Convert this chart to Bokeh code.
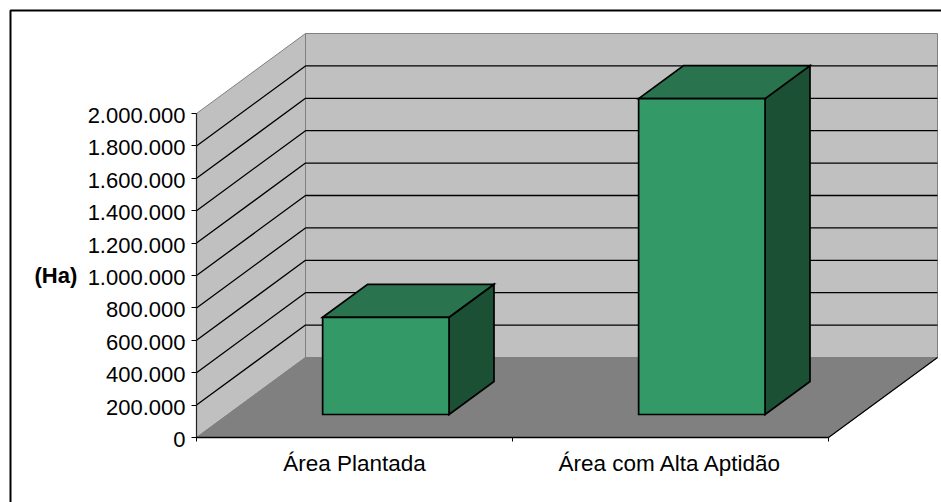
from bokeh.plotting import figure
from bokeh.models import Range1d, FixedTicker, BoxAnnotation, Label
from bokeh.embed import file_html
from bokeh.resources import INLINE

categories = ["Área Plantada", "Área com Alta Aptidão"]
values = [600000, 1950000]
y_ticks = [0, 200000, 400000, 600000, 800000, 1000000, 1200000, 1400000, 1600000, 1800000, 2000000]
y_labels = ["0", "200.000", "400.000", "600.000", "800.000", "1.000.000", "1.200.000",
            "1.400.000", "1.600.000", "1.800.000", "2.000.000"]
y_title = "(Ha)"

FONT = "Liberation Sans"
W, H = 941, 502
ORIGIN_X, ORIGIN_Y = 196.0, 437.0   # canvas px of the chart's front-left corner
PX_X = 316.0                        # px per category
PX_Y = 324.0 / 2000000              # px per value unit
DEPTH_PX = (109.0, 80.0)            # oblique offset of the whole floor depth, px
DX, DY = DEPTH_PX[0] / PX_X, DEPTH_PX[1] / PX_Y
BAR_W = 0.4
BAR_D0, BAR_D1 = 0.2875, 0.70       # bar extent along the depth
LABEL_DROP = 2.0 / PX_Y             # tick labels sit 2px below their ticks


def proj(x, y, d):
    """Oblique projection of (category pos, value, depth 0..1) to data space."""
    return x + DX * d, y + DY * d


def face(points):
    xs, ys = zip(*[proj(*pt) for pt in points])
    return list(xs), list(ys)


n = len(categories)
top = y_ticks[-1]

p = figure(width=W, height=H, output_backend="svg", toolbar_location=None,
           x_range=Range1d(-ORIGIN_X / PX_X, (W - ORIGIN_X) / PX_X),
           y_range=Range1d(-(H - ORIGIN_Y) / PX_Y, ORIGIN_Y / PX_Y),
           min_border=0,
           background_fill_color="white", border_fill_color="white", outline_line_color=None)
p.grid.visible = False

WALL, FLOOR, EDGE = "#C0C0C0", "#808080", "#808080"

# side wall, back wall, floor
for pts, col in [
    ([(0, 0, 0), (0, top, 0), (0, top, 1), (0, 0, 1)], WALL),
    ([(0, 0, 1), (0, top, 1), (n, top, 1), (n, 0, 1)], WALL),
    ([(0, 0, 0), (0, 0, 1), (n, 0, 1), (n, 0, 0)], FLOOR),
]:
    xs, ys = face(pts)
    p.patch(xs, ys, fill_color=col, line_color=EDGE, line_width=1)

# gridlines on both walls
for t in y_ticks[1:-1]:
    xs, ys = face([(0, t, 0), (0, t, 1), (n, t, 1)])
    p.line(xs, ys, line_color="black", line_width=1.3)

# floor's open right edge
xs, ys = face([(n, 0, 0), (n, 0, 1)])
p.line(xs, ys, line_color="black", line_width=1.2)

# value axis spine
p.line([0, 0], [y_ticks[0], top], line_color="#222222", line_width=1.2)

# bars
for i, v in enumerate(values):
    x0, x1 = i + 0.5 - BAR_W / 2, i + 0.5 + BAR_W / 2
    d0, d1 = BAR_D0, BAR_D1
    for pts, col in [
        ([(x1, 0, d0), (x1, v, d0), (x1, v, d1), (x1, 0, d1)], "#1C5035"),
        ([(x0, v, d0), (x0, v, d1), (x1, v, d1), (x1, v, d0)], "#29744E"),
        ([(x0, 0, d0), (x0, v, d0), (x1, v, d0), (x1, 0, d0)], "#339966"),
    ]:
        xs, ys = face(pts)
        p.patch(xs, ys, fill_color=col, line_color="black", line_width=1.7, line_join="miter")

# axes, anchored inside the full-canvas frame
ya = p.yaxis[0]
ya.fixed_location = 0
label_ticks = [t - LABEL_DROP for t in y_ticks]
ya.ticker = FixedTicker(ticks=label_ticks, minor_ticks=y_ticks)
ya.major_label_overrides = dict(zip(label_ticks, y_labels))
ya.bounds = (label_ticks[0], top)
ya.axis_line_color = None
ya.major_tick_line_color = None
ya.major_tick_in = 0
ya.major_tick_out = 0
ya.minor_tick_line_color = "black"
ya.minor_tick_in = 0
ya.minor_tick_out = 5
ya.major_label_standoff = 6
ya.major_label_text_font = FONT
ya.major_label_text_font_size = "22px"
ya.major_label_text_color = "black"

xa = p.xaxis[0]
xa.fixed_location = 0
centers = [i + 0.5 for i in range(n)]
xa.ticker = FixedTicker(ticks=centers, minor_ticks=list(range(n + 1)))
xa.major_label_overrides = dict(zip(centers, categories))
xa.bounds = (0, n)
xa.axis_line_color = "black"
xa.axis_line_width = 1.5
xa.major_tick_line_color = None
xa.major_tick_in = 0
xa.major_tick_out = 0
xa.minor_tick_line_color = "black"
xa.minor_tick_in = 0
xa.minor_tick_out = 4
xa.major_label_standoff = 9
xa.major_label_text_font = FONT
xa.major_label_text_font_size = "22.5px"
xa.major_label_text_color = "black"

# the y axis title sits level with the 1.000.000 tick
p.add_layout(Label(x=34, y=y_ticks[5], x_units="canvas", y_units="data", text=y_title,
                   text_font=FONT, text_font_size="22px", text_font_style="bold",
                   text_color="black", text_align="left", text_baseline="middle"))

# chart-area border: only its left and top sides fall in the picture
p.add_layout(BoxAnnotation(left=10, right=W + 20, top=10, bottom=H + 20,
                           left_units="canvas", right_units="canvas",
                           top_units="canvas", bottom_units="canvas",
                           fill_alpha=0, line_color="black", line_width=2, line_alpha=1))

open("out.html", "w").write(file_html(p, INLINE))
